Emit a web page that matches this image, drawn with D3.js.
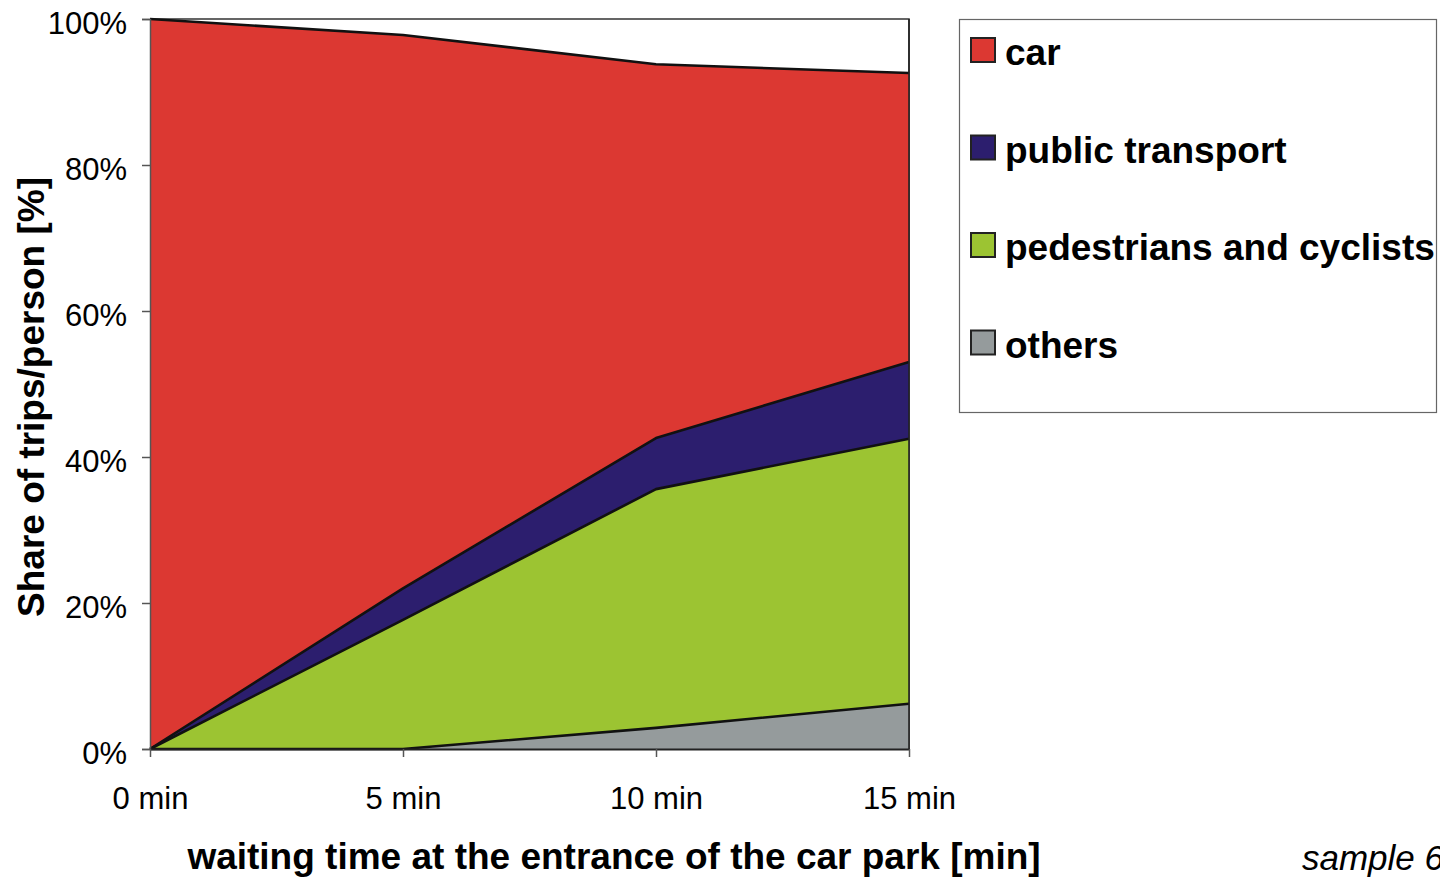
<!DOCTYPE html>
<html>
<head>
<meta charset="utf-8">
<script src="https://cdn.jsdelivr.net/npm/d3@7"></script>
<style>
  html, body { margin: 0; padding: 0; background: #fff; overflow: hidden; }
  svg { display: block; font-family: "Liberation Sans", Arial, sans-serif; }
</style>
</head>
<body>
<svg id="chart" width="1440" height="877"></svg>
<script>
// ---- data ----
const waitingTimes = [0, 5, 10, 15];
const xTickLabels = ["0 min", "5 min", "10 min", "15 min"];
const yTickValues = [0, 20, 40, 60, 80, 100];
const seriesNames = ["others", "pedestrians and cyclists", "public transport", "car"];
const others = [0, 0, 2.9, 6.2];
const pedestrians = [0, 17.7, 32.7, 36.3];
const publicTransport = [0, 4.3, 7.0, 10.5];
const car = [100, 75.8, 51.2, 39.6];
const legendOrder = ["car", "public transport", "pedestrians and cyclists", "others"];
const colors = {
  "car": "#DC3832",
  "public transport": "#2C1E6E",
  "pedestrians and cyclists": "#9CC432",
  "others": "#959B9C"
};

const table = waitingTimes.map((t, i) => ({
  t,
  "others": others[i],
  "pedestrians and cyclists": pedestrians[i],
  "public transport": publicTransport[i],
  "car": car[i]
}));

const svg = d3.select("#chart");
const mLeft = 150, mRight = 909, mTop = 19, mBottom = 749;

const x = d3.scaleLinear().domain([0, 15]).range([mLeft, mRight]);
const y = d3.scaleLinear().domain([0, 100]).range([mBottom, mTop]);

const stack = d3.stack().keys(seriesNames);
const layers = stack(table);

const area = d3.area()
  .x(d => x(d.data.t))
  .y0(d => y(d[0]))
  .y1(d => y(d[1]));
const topLine = d3.line()
  .x(d => x(d.data.t))
  .y(d => y(d[1]));

// plot frame (top and right)
svg.append("path")
  .attr("d", `M${mLeft},${mTop}H${mRight}V${mBottom}`)
  .attr("fill", "none")
  .attr("stroke", "#333")
  .attr("stroke-width", 1.5);

const g = svg.append("g");
g.selectAll("path.area")
  .data(layers)
  .join("path")
  .attr("class", "area")
  .attr("d", area)
  .attr("fill", d => colors[d.key]);

g.selectAll("path.edge")
  .data(layers)
  .join("path")
  .attr("class", "edge")
  .attr("d", topLine)
  .attr("fill", "none")
  .attr("stroke", "#111")
  .attr("stroke-width", 2.6)
  .attr("stroke-linejoin", "round");

// right edge of areas
svg.append("line")
  .attr("x1", mRight).attr("x2", mRight)
  .attr("y1", y(100)).attr("y2", mBottom)
  .attr("stroke", "#222").attr("stroke-width", 1.6);

// y axis
const yAxis = d3.axisLeft(y)
  .tickValues(yTickValues)
  .tickFormat(d => d + "%")
  .tickSize(8)
  .tickPadding(15);
const gy = svg.append("g")
  .attr("transform", `translate(${mLeft},0)`)
  .call(yAxis);
gy.select(".domain").attr("stroke", "#555").attr("stroke-width", 1.5);
gy.selectAll(".tick line").attr("stroke", "#555").attr("stroke-width", 1.5);
gy.selectAll(".tick text")
  .attr("font-size", 31)
  .attr("dy", "0.48em")
  .attr("fill", "#000")
  .attr("font-family", "Liberation Sans, Arial, sans-serif");

// x axis
const xAxis = d3.axisBottom(x)
  .tickValues(waitingTimes)
  .tickFormat((d, i) => xTickLabels[i])
  .tickSize(8)
  .tickSizeOuter(0)
  .tickPadding(30);
const gx = svg.append("g")
  .attr("transform", `translate(0,${mBottom})`)
  .call(xAxis);
gx.select(".domain").attr("stroke", "#222").attr("stroke-width", 2.2);
gx.selectAll(".tick line").attr("stroke", "#555").attr("stroke-width", 1.5);
gx.selectAll(".tick text")
  .attr("font-size", 31)
  .attr("fill", "#000")
  .attr("font-family", "Liberation Sans, Arial, sans-serif");

// axis titles
svg.append("text")
  .attr("x", 614).attr("y", 869)
  .attr("text-anchor", "middle")
  .attr("font-size", 37).attr("font-weight", "bold")
  .text("waiting time at the entrance of the car park [min]");

svg.append("text")
  .attr("transform", "translate(44,397) rotate(-90)")
  .attr("text-anchor", "middle")
  .attr("font-size", 37).attr("font-weight", "bold")
  .text("Share of trips/person [%]");

// legend
const lg = svg.append("g");
lg.append("rect")
  .attr("x", 959.5).attr("y", 19.5)
  .attr("width", 477).attr("height", 393)
  .attr("fill", "#fff").attr("stroke", "#666").attr("stroke-width", 1.2);
const items = lg.selectAll("g.item")
  .data(legendOrder)
  .join("g")
  .attr("class", "item")
  .attr("transform", (d, i) => `translate(0,${i * 97.5})`);
items.append("rect")
  .attr("x", 971).attr("y", 38)
  .attr("width", 24).attr("height", 24)
  .attr("fill", d => colors[d])
  .attr("stroke", "#222").attr("stroke-width", 2);
items.append("text")
  .attr("x", 1005).attr("y", 65)
  .attr("font-size", 37).attr("font-weight", "bold")
  .text(d => d);

// footnote
svg.append("text")
  .attr("x", 1302).attr("y", 870)
  .attr("font-size", 35).attr("font-style", "italic")
  .text("sample 6");
</script>
</body>
</html>
